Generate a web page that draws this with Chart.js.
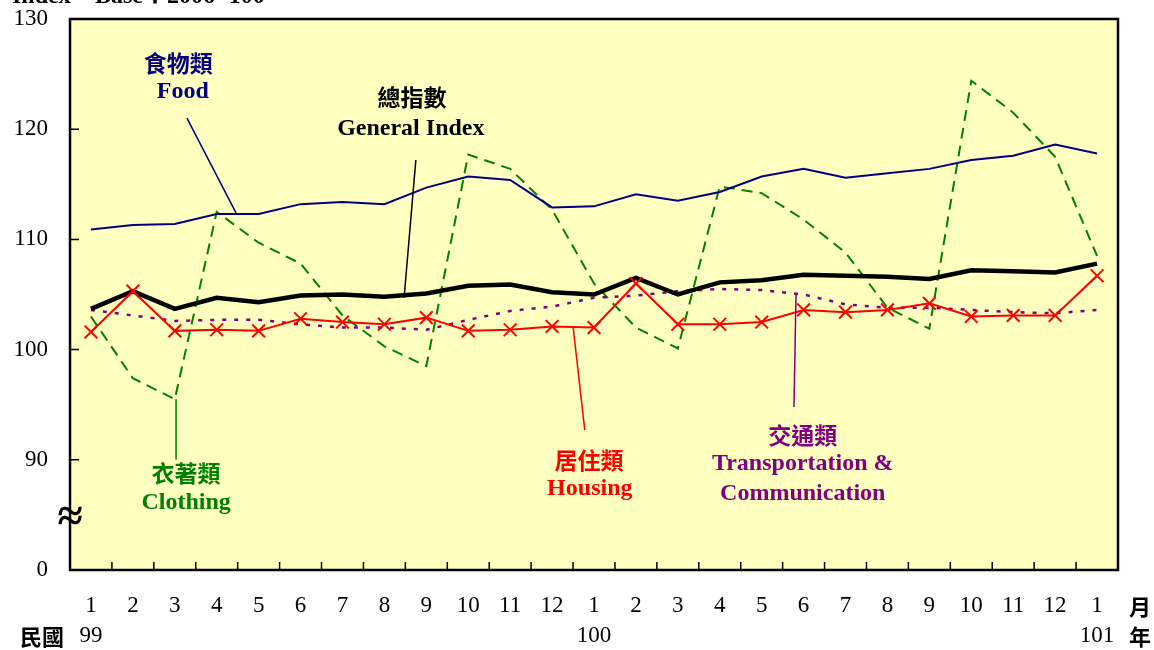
<!DOCTYPE html>
<html>
<head>
<meta charset="utf-8">
<script src="https://cdn.jsdelivr.net/npm/chart.js@4.4.1/dist/chart.umd.min.js"></script>
<style>
  html, body { margin: 0; padding: 0; background: #fff; }
  #wrap { width: 1154px; height: 650px; position: relative; }
</style>
</head>
<body>
<div id="wrap"><canvas id="myChart" width="1154" height="650"></canvas></div>
<script>
// months 99/1 .. 101/1
const months = ['1','2','3','4','5','6','7','8','9','10','11','12','1','2','3','4','5','6','7','8','9','10','11','12','1']
const years = ['99','','','','','','','','','','','','100','','','','','','','','','','','','101']

const general = [103.7,105.3,103.7,104.7,104.3,104.9,105.0,104.8,105.1,105.8,105.9,105.2,105.0,106.5,105.0,106.1,106.3,106.8,106.7,106.6,106.4,107.2,107.1,107.0,107.8]
const food = [110.9,111.3,111.4,112.3,112.3,113.2,113.4,113.2,114.7,115.7,115.4,112.9,113.0,114.1,113.5,114.3,115.7,116.4,115.6,116.0,116.4,117.2,117.6,118.6,117.8]
const clothing = [103.0,97.4,95.5,112.5,109.7,107.8,103.1,100.3,98.5,117.7,116.4,112.7,106.0,102.0,100.1,114.8,114.2,111.8,108.8,103.8,101.9,124.4,121.5,117.5,108.5]
const housing = [101.6,105.3,101.7,101.8,101.7,102.8,102.5,102.3,102.9,101.7,101.8,102.1,102.0,106.0,102.3,102.3,102.5,103.6,103.4,103.6,104.2,103.0,103.1,103.1,106.7]
const transport = [103.6,103.1,102.6,102.7,102.7,102.3,102.0,102.0,101.8,102.7,103.5,103.9,104.7,104.9,105.3,105.5,105.4,105.0,104.1,103.8,103.8,103.6,103.4,103.3,103.6]

const yTicks = [80, 90, 100, 110, 120, 130]

const serif = '"Liberation Serif", "Times New Roman", serif'
const cjk = '"Noto Sans CJK TC", "Noto Sans CJK SC", sans-serif'

// series labels placed on the chart: [x index, y value, text, font, colour]
const notes = [
    [2.08, 126.0, '食物類', 'cjk', '#000080'],
    [2.19, 123.4, 'Food', 'serif', '#000080'],
    [7.66, 122.9, '總指數', 'cjk', '#000000'],
    [7.63, 120.0, 'General Index', 'serif', '#000000'],
    [2.27, 88.75, '衣著類', 'cjk', '#008000'],
    [2.27, 86.1, 'Clothing', 'serif', '#008000'],
    [11.88, 90.0, '居住類', 'cjk', '#ff0000'],
    [11.9, 87.4, 'Housing', 'serif', '#ff0000'],
    [16.98, 92.2, '交通類', 'cjk', '#800080'],
    [16.98, 89.6, 'Transportation &', 'serif', '#800080'],
    [16.98, 86.9, 'Communication', 'serif', '#800080']
]
// leader lines: [x1, y1, x2, y2, colour]
const leaders = [
    [2.29, 121.0, 3.46, 112.4, '#000080'],
    [7.75, 117.2, 7.47, 104.7, '#000000'],
    [2.03, 95.5, 2.03, 90.0, '#008000'],
    [11.5, 102.1, 11.78, 92.7, '#ff0000'],
    [16.82, 105.1, 16.77, 94.8, '#800080']
]

const decor = {
    id: 'decor',
    beforeDatasetsDraw(chart) {
        const { ctx, chartArea: a } = chart
        ctx.save()
        ctx.fillStyle = '#ffffc0'
        ctx.fillRect(a.left, a.top, a.right - a.left, a.bottom - a.top)
        ctx.restore()
    },
    afterDatasetsDraw(chart) {
        const { ctx, chartArea: a, scales: { x, y } } = chart
        ctx.save()
        // leaders
        ctx.lineWidth = 1.5
        leaders.forEach(l => {
            ctx.strokeStyle = l[4]
            ctx.beginPath()
            ctx.moveTo(x.getPixelForValue(l[0]), y.getPixelForValue(l[1]))
            ctx.lineTo(x.getPixelForValue(l[2]), y.getPixelForValue(l[3]))
            ctx.stroke()
        })
        // notes
        ctx.textAlign = 'center'
        ctx.textBaseline = 'middle'
        notes.forEach(n => {
            ctx.fillStyle = n[4]
            ctx.font = n[3] === 'cjk' ? 'bold 23px ' + cjk : 'bold 24px ' + serif
            ctx.fillText(n[2], x.getPixelForValue(n[0]), y.getPixelForValue(n[1]))
        })
        // frame
        ctx.strokeStyle = '#000'
        ctx.lineWidth = 2.5
        ctx.strokeRect(a.left, a.top, a.right - a.left, a.bottom - a.top)
        // inward ticks
        ctx.lineWidth = 1.5
        ctx.beginPath()
        yTicks.slice(1, -1).forEach(v => {
            const py = y.getPixelForValue(v)
            ctx.moveTo(a.left, py)
            ctx.lineTo(a.left + 9, py)
        })
        for (let i = 1; i < months.length; i++) {
            const px = (x.getPixelForValue(i - 1) + x.getPixelForValue(i)) / 2
            ctx.moveTo(px, a.bottom)
            ctx.lineTo(px, a.bottom - 8)
        }
        ctx.stroke()
        // axis break
        const by = y.getPixelForValue(84.8)
        ctx.fillStyle = '#000'
        ctx.font = 'bold 46px ' + serif
        ctx.fillText('≈', a.left, by + 2)
        // header and axis words
        ctx.font = 'bold 24px ' + serif
        ctx.textAlign = 'left'
        ctx.fillText('Index', 12, a.top - 22)
        ctx.fillText('Base：2006=100', 95, a.top - 22)
        ctx.font = 'bold 22px ' + cjk
        ctx.textAlign = 'center'
        ctx.fillText('月', 1140, a.bottom + 37)
        ctx.fillText('年', 1140, a.bottom + 67)
        ctx.fillText('民國', 42, a.bottom + 67)
        ctx.restore()
    }
}

const ctx = document.getElementById('myChart')
new Chart(ctx, {
    type: 'line',
    data: {
        labels: months.map((m, i) => [m, years[i]]),
        datasets: [
            { label: '居住類 Housing', data: housing, borderColor: '#ff0000', borderWidth: 2, pointStyle: 'crossRot', pointRadius: 9, pointBorderWidth: 2, pointBorderColor: '#ff0000', order: 0 },
            { label: '總指數 General Index', data: general, borderColor: '#000000', borderWidth: 4.5, pointRadius: 0, order: 1 },
            { label: '食物類 Food', data: food, borderColor: '#000080', borderWidth: 2, pointRadius: 0, order: 2 },
            { label: '交通類 Transportation & Communication', data: transport, borderColor: '#800080', borderWidth: 2.5, borderDash: [4, 8], pointRadius: 0, order: 3 },
            { label: '衣著類 Clothing', data: clothing, borderColor: '#008000', borderWidth: 2, borderDash: [11, 7], pointRadius: 0, order: 4 }
        ]
    },
    options: {
        responsive: false,
        animation: false,
        layout: { padding: { top: 19, right: 36, left: 0, bottom: 0 } },
        plugins: { legend: { display: false }, tooltip: { enabled: false } },
        scales: {
            x: {
                offset: true,
                grid: { display: false, drawTicks: false },
                border: { display: false },
                ticks: { color: '#000', padding: 21, maxRotation: 0, autoSkip: false, font: { family: serif, size: 23, lineHeight: 1.3 } },
                afterFit(s) { s.height = 80; s.paddingTop = 0; s.paddingBottom = 0 }
            },
            y: {
                min: 80,
                max: 130,
                grid: { display: false, drawTicks: false },
                border: { display: false },
                afterBuildTicks(s) { s.ticks = yTicks.map(v => ({ value: v })) },
                ticks: { color: '#000', padding: 22, font: { family: serif, size: 23 }, callback: v => v === 80 ? '0' : v },
                afterFit(s) { s.width = 70; s.paddingTop = 0; s.paddingBottom = 0 }
            }
        }
    },
    plugins: [decor]
})
</script>
</body>
</html>
